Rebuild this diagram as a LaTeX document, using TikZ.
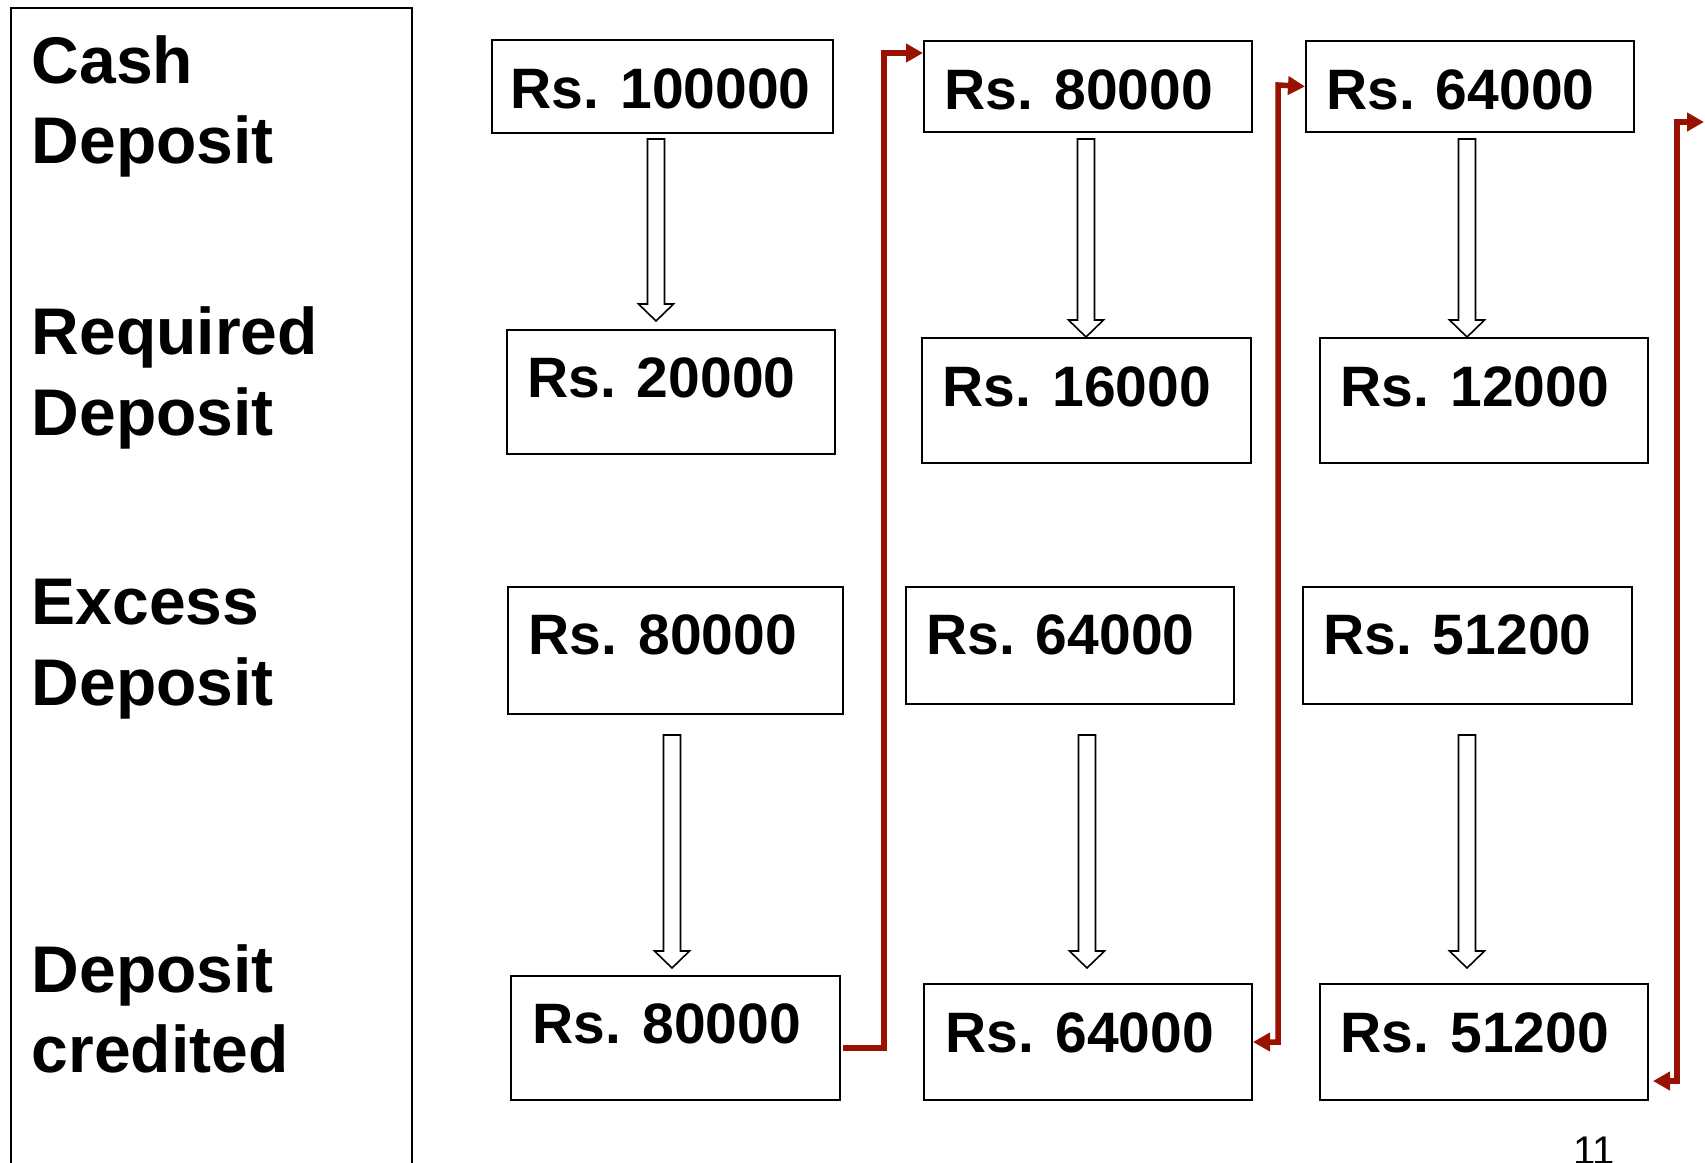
\documentclass[tikz,border=0pt]{standalone}
\usepackage{fontspec}
\setmainfont{Liberation Sans}
\usetikzlibrary{calc,arrows.meta}
\definecolor{arrred}{RGB}{153,17,0}
\newcommand\hollowarr[2]{\draw[hollow] ($(#1)+(-8.5,0)$) -- ($(#1)+(8.5,0)$) -- ($(#2)+(8.5,-17)$) -- ($(#2)+(17.5,-17)$) -- (#2) -- ($(#2)+(-17.5,-17)$) -- ($(#2)+(-8.5,-17)$) -- cycle;}
\begin{document}
\begin{tikzpicture}[x=1pt,y=-1pt,
  box/.style={draw, line width=2pt, anchor=north west, inner sep=0pt},
  val/.style={anchor=base west, inner sep=0pt, font=\fontsize{57pt}{60pt}\selectfont\bfseries},
  lab/.style={anchor=base west, inner sep=0pt, font=\fontsize{66pt}{80pt}\selectfont\bfseries},
  hollow/.style={draw=black, fill=white, line width=1.6pt, line join=miter},
  redarr/.style={draw=arrred, line width=5.5pt},
  >={Triangle[length=17pt,width=18pt]}]
\useasboundingbox (0,0) rectangle (1705,1162);
\fill[white] (0,0) rectangle (1705,1162);

% left panel
\node[draw, line width=2pt, anchor=north west, inner sep=0pt, minimum width=401pt, minimum height=1200pt] (panel) at (10,7) {};
\node[lab] (l1a) at (31.5,83) {Cash};
\node[lab] (l1b) at (31.5,163) {Deposit};
\node[lab] (l2a) at (31.5,354) {Required};
\node[lab] (l2b) at (31.5,435) {Deposit};
\node[lab] (l3a) at (31.5,624) {Excess};
\node[lab] (l3b) at (31.5,705) {Deposit};
\node[lab] (l4a) at (31.5,992) {Deposit};
\node[lab] (l4b) at (31.5,1072) {credited};

% boxes
\node[box, minimum width=341pt, minimum height=93pt] (b11) at (491,39) {};
\node[box, minimum width=328pt, minimum height=91pt] (b12) at (923,40) {};
\node[box, minimum width=328pt, minimum height=91pt] (b13) at (1305,40) {};
\node[box, minimum width=328pt, minimum height=124pt] (b21) at (506,329) {};
\node[box, minimum width=329pt, minimum height=125pt] (b22) at (921,337) {};
\node[box, minimum width=328pt, minimum height=125pt] (b23) at (1319,337) {};
\node[box, minimum width=335pt, minimum height=127pt] (b31) at (507,586) {};
\node[box, minimum width=328pt, minimum height=117pt] (b32) at (905,586) {};
\node[box, minimum width=329pt, minimum height=117pt] (b33) at (1302,586) {};
\node[box, minimum width=329pt, minimum height=124pt] (b41) at (510,975) {};
\node[box, minimum width=328pt, minimum height=116pt] (b42) at (923,983) {};
\node[box, minimum width=328pt, minimum height=116pt] (b43) at (1319,983) {};

% texts
\node[val] (t11) at ($(b11.north west)+(19.5,69)$) {Rs. 100000};
\node[val] (t12) at ($(b12.north west)+(21.5,69)$) {Rs. 80000};
\node[val] (t13) at ($(b13.north west)+(21,69)$) {Rs. 64000};
\node[val] (t21) at ($(b21.north west)+(21,68.5)$) {Rs. 20000};
\node[val] (t22) at ($(b22.north west)+(21.5,69)$) {Rs. 16000};
\node[val] (t23) at ($(b23.north west)+(21.5,69)$) {Rs. 12000};
\node[val] (t31) at ($(b31.north west)+(21.5,68.5)$) {Rs. 80000};
\node[val] (t32) at ($(b32.north west)+(21,68.5)$) {Rs. 64000};
\node[val] (t33) at ($(b33.north west)+(21,68.5)$) {Rs. 51200};
\node[val] (t41) at ($(b41.north west)+(22.5,68.5)$) {Rs. 80000};
\node[val] (t42) at ($(b42.north west)+(22.5,69)$) {Rs. 64000};
\node[val] (t43) at ($(b43.north west)+(21.5,69)$) {Rs. 51200};

% hollow arrows
\coordinate (a1s) at (656,139);  \coordinate (a1e) at (656,321);
\coordinate (a2s) at (1086,139); \coordinate (a2e) at (1086,337);
\coordinate (a3s) at (1467,139); \coordinate (a3e) at (1467,337);
\coordinate (a4s) at (672,735);  \coordinate (a4e) at (672,968);
\coordinate (a5s) at (1087,735); \coordinate (a5e) at (1087,968);
\coordinate (a6s) at (1467,735); \coordinate (a6e) at (1467,968);
\hollowarr{a1s}{a1e}
\hollowarr{a2s}{a2e}
\hollowarr{a3s}{a3e}
\hollowarr{a4s}{a4e}
\hollowarr{a5s}{a5e}
\hollowarr{a6s}{a6e}

% red connectors
\coordinate (r1) at (884,53);
\coordinate (r2) at (1278,85);
\coordinate (r3) at (1677,122);
\coordinate (r3end) at (1704,122);
\draw[redarr, ->] ($(b41.east)+(2,10)$) -| (r1) -- ($(b12.north west)+(0,13)$);
\draw[redarr, <->] (b42.east) -| (r2) -- (b13.west);
\draw[redarr, <->] ($(b43.south east)+(4,-20)$) -| (r3) -- (r3end);

% page number
\node[anchor=base west, inner sep=0pt, font=\fontsize{40pt}{40pt}\selectfont] (pg) at (1573,1164) {11};
\end{tikzpicture}
\end{document}
